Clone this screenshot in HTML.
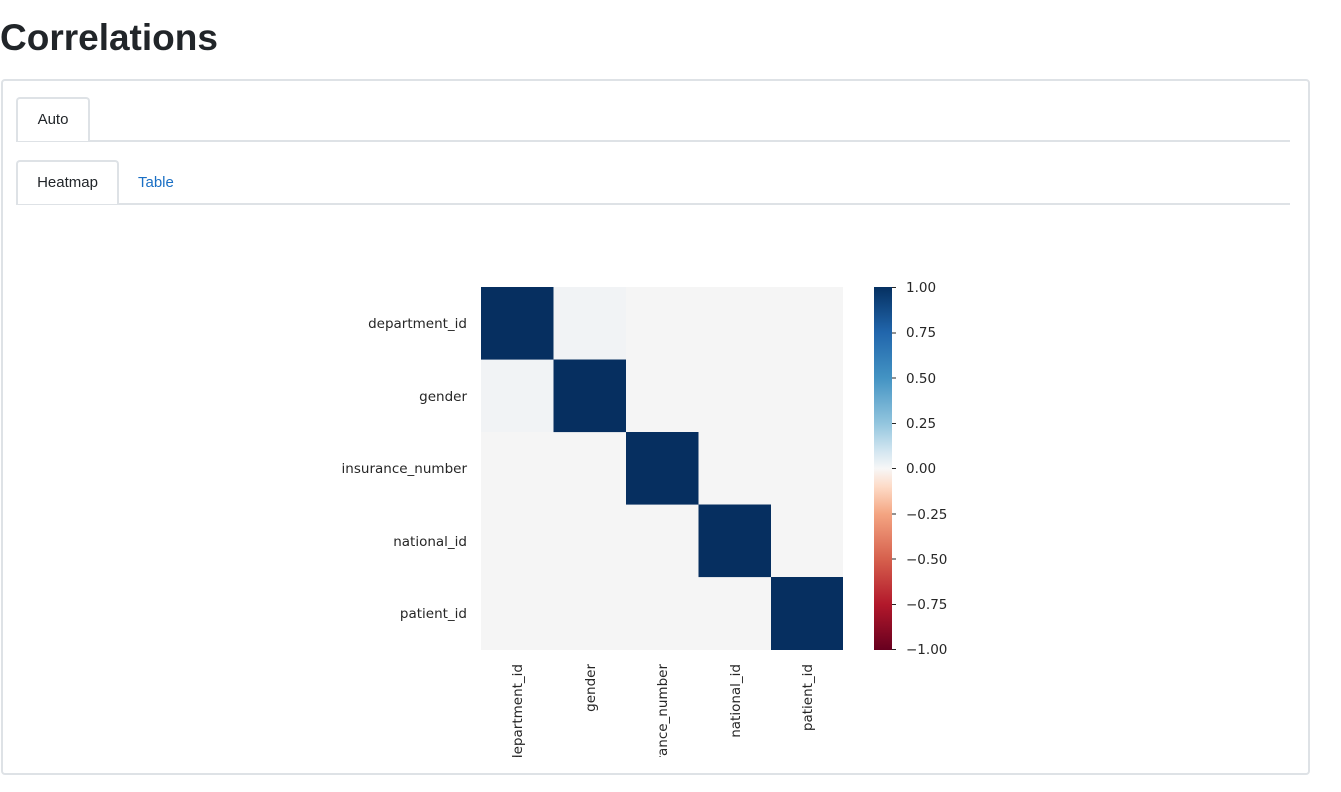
<!DOCTYPE html>
<html><head><meta charset="utf-8"><style>
body{margin:0;width:1341px;height:792px;background:#fff;font-family:"Liberation Sans","DejaVu Sans",sans-serif;position:relative;overflow:hidden}
h1{position:absolute;left:0;top:17px;margin:0;font-size:37px;font-weight:bold;color:#212529;letter-spacing:0}
.card{position:absolute;left:1px;top:79px;width:1305px;height:692px;border:2px solid #dee2e6;border-radius:4px}
.line{position:absolute;left:16px;width:1274px;height:2px;background:#dee2e6}
.tab{position:absolute;height:42px;border:2px solid #dee2e6;border-bottom:none;border-radius:4px 4px 0 0;background:#fff;font-size:15px;color:#212529;line-height:42px;text-align:center}
.lnk{position:absolute;font-size:15px;color:#1a6fc4}
</style></head><body>
<h1>Correlations</h1>
<div class="card"></div>
<div class="line" style="top:140px"></div>
<div class="tab" style="left:16px;top:97px;width:70px">Auto</div>
<div class="line" style="top:203px"></div>
<div class="tab" style="left:16px;top:160px;width:99px">Heatmap</div>
<div class="lnk" style="left:138px;top:174px">Table</div>
<svg style="position:absolute;left:0;top:0" width="1341" height="792" font-family="DejaVu Sans, sans-serif" font-size="13.5" fill="#262626">
<defs><linearGradient id="g" x1="0" y1="0" x2="0" y2="1">
<stop offset="0" stop-color="#053061"/><stop offset="0.125" stop-color="#2166ac"/><stop offset="0.25" stop-color="#4393c3"/><stop offset="0.375" stop-color="#92c5de"/><stop offset="0.45" stop-color="#d1e5f0"/><stop offset="0.5" stop-color="#f7f7f7"/><stop offset="0.55" stop-color="#fddbc7"/><stop offset="0.625" stop-color="#f4a582"/><stop offset="0.75" stop-color="#d6604d"/><stop offset="0.875" stop-color="#b2182b"/><stop offset="1" stop-color="#67001f"/></linearGradient>
<clipPath id="c"><rect x="0" y="655" width="1341" height="102"/></clipPath></defs>
<rect x="481" y="287" width="362" height="363" fill="#f5f5f5"/>
<rect x="553.5" y="287" width="72.5" height="72.5" fill="#f1f3f5"/>
<rect x="481" y="359.5" width="72.5" height="72.5" fill="#f1f3f5"/>
<rect x="481" y="287" width="72.5" height="72.6" fill="#062f60"/>
<rect x="553.5" y="359.5" width="72.5" height="72.6" fill="#062f60"/>
<rect x="626" y="432" width="72.5" height="72.6" fill="#062f60"/>
<rect x="698.5" y="504.5" width="72.5" height="72.6" fill="#062f60"/>
<rect x="771" y="577" width="72" height="73" fill="#062f60"/>
<g text-anchor="end">
<text x="467" y="328">department_id</text><text x="467" y="401">gender</text><text x="467" y="473">insurance_number</text><text x="467" y="546">national_id</text><text x="467" y="618">patient_id</text>
</g>
<g text-anchor="end" clip-path="url(#c)">
<text transform="translate(522,664) rotate(-90)">department_id</text>
<text transform="translate(595,664) rotate(-90)">gender</text>
<text transform="translate(667,664) rotate(-90)">insurance_number</text>
<text transform="translate(740,664) rotate(-90)">national_id</text>
<text transform="translate(812,664) rotate(-90)">patient_id</text>
</g>
<rect x="874" y="287" width="18" height="363" fill="url(#g)"/>
<g stroke="#262626" stroke-width="1">
<line x1="892" x2="896" y1="287.5" y2="287.5"/><line x1="892" x2="896" y1="333" y2="333"/><line x1="892" x2="896" y1="378" y2="378"/><line x1="892" x2="896" y1="423.5" y2="423.5"/><line x1="892" x2="896" y1="468.5" y2="468.5"/><line x1="892" x2="896" y1="514" y2="514"/><line x1="892" x2="896" y1="559" y2="559"/><line x1="892" x2="896" y1="604.5" y2="604.5"/><line x1="892" x2="896" y1="649.5" y2="649.5"/>
</g>
<g>
<text x="906" y="292">1.00</text><text x="906" y="337">0.75</text><text x="906" y="383">0.50</text><text x="906" y="428">0.25</text><text x="906" y="473">0.00</text><text x="906" y="519">−0.25</text><text x="906" y="564">−0.50</text><text x="906" y="609">−0.75</text><text x="906" y="654">−1.00</text>
</g>
</svg>
</body></html>
